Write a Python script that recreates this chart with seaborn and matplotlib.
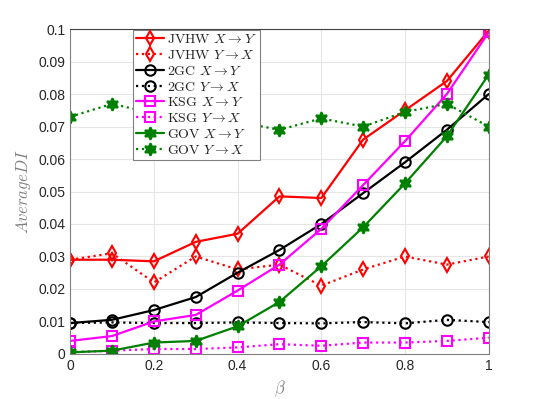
# Average directed information vs beta, four estimators
import numpy as np
import pandas as pd
import matplotlib
matplotlib.use("Agg")
import matplotlib.pyplot as plt
import seaborn as sns

# ------------------------------
# Data
# ------------------------------
beta = [0, 0.1, 0.2, 0.3, 0.4, 0.5, 0.6, 0.7, 0.8, 0.9, 1.0]

jvhw_xy = [0.029, 0.029, 0.0285, 0.0345, 0.037, 0.0485, 0.048, 0.066, 0.075, 0.084, 0.0995]
jvhw_yx = [0.029, 0.031, 0.022, 0.030, 0.026, 0.0275, 0.021, 0.026, 0.030, 0.0275, 0.030]
gc_xy = [0.0095, 0.0105, 0.0135, 0.0175, 0.025, 0.032, 0.040, 0.0495, 0.059, 0.069, 0.080]
gc_yx = [0.0095, 0.0097, 0.0095, 0.0095, 0.0097, 0.0095, 0.0094, 0.0098, 0.0094, 0.0105, 0.0098]
ksg_xy = [0.004, 0.0055, 0.010, 0.012, 0.0195, 0.0275, 0.0385, 0.052, 0.0655, 0.080, 0.099]
ksg_yx = [0.0005, 0.001, 0.0015, 0.0015, 0.002, 0.003, 0.0025, 0.0035, 0.0035, 0.004, 0.005]
gov_xy = [0.0005, 0.001, 0.0035, 0.004, 0.0085, 0.016, 0.027, 0.039, 0.0525, 0.067, 0.086]
gov_yx = [0.073, 0.077, 0.074, 0.073, 0.0715, 0.069, 0.0725, 0.070, 0.0745, 0.077, 0.070]

labels = ["JVHW $X\\rightarrow Y$", "JVHW $Y\\rightarrow X$",
          "2GC $X\\rightarrow Y$", "2GC $Y\\rightarrow X$",
          "KSG $X\\rightarrow Y$", "KSG $Y\\rightarrow X$",
          "GOV $X\\rightarrow Y$", "GOV $Y\\rightarrow X$"]
series = [jvhw_xy, jvhw_yx, gc_xy, gc_yx, ksg_xy, ksg_yx, gov_xy, gov_yx]

colors = ["#ff0000", "#ff0000", "black", "black", "#ff00ff", "#ff00ff", "#008000", "#008000"]
markers = ["d", "d", "o", "o", "s", "s", (6, 1, 0), (6, 1, 0)]
dashes = ["-", ":", "-", ":", "-", ":", "-", ":"]

# ------------------------------
# Plot
# ------------------------------
sns.set_style("whitegrid")
plt.rcParams["font.family"] = ["Liberation Sans", "DejaVu Sans"]
plt.rcParams["mathtext.fontset"] = "cm"

fig = plt.figure(figsize=(5.4, 3.99), dpi=100)
ax = fig.add_axes([0.13, 0.113, 0.775, 0.814])

for lab, vals, c, m, ls in zip(labels, series, colors, markers, dashes):
    gov = isinstance(m, tuple)
    sns.lineplot(x=beta, y=vals, ax=ax, color=c, marker=m, linestyle=ls,
                 linewidth=1.6, markersize=9 if gov else 7.5,
                 markerfacecolor=c if gov else "none",
                 markeredgecolor=c, markeredgewidth=1.5, label=lab)

ax.set_xlim(0, 1)
ax.set_ylim(0, 0.1)
ax.set_xticks([0, 0.2, 0.4, 0.6, 0.8, 1])
ax.set_xticklabels(["0", "0.2", "0.4", "0.6", "0.8", "1"])
ax.set_yticks(np.arange(0, 0.101, 0.01))
ax.set_yticklabels(["0", "0.01", "0.02", "0.03", "0.04", "0.05",
                    "0.06", "0.07", "0.08", "0.09", "0.1"])
ax.tick_params(labelsize=10, colors="#262626", direction="in", length=4)
ax.grid(True, color="#e6e6e6", linewidth=0.8)
for sp in ax.spines.values():
    sp.set_color("#808080")
    sp.set_linewidth(0.8)
ax.spines["top"].set_color("#404040")

ax.set_xlabel("$\\beta$", fontsize=12, color="#808080")
ax.set_ylabel("$Average DI$", fontsize=12, color="#808080")

leg = ax.legend(loc="upper left", bbox_to_anchor=(0.15, 0.998),
                prop={"family": "cmr10", "size": 10},
                frameon=True, fancybox=False, framealpha=1, edgecolor="#808080",
                borderpad=0.25, labelspacing=0.2, handlelength=2.0,
                handletextpad=0.2, borderaxespad=0)
leg.get_frame().set_linewidth(0.8)

fig.savefig("out.png", dpi=100)
